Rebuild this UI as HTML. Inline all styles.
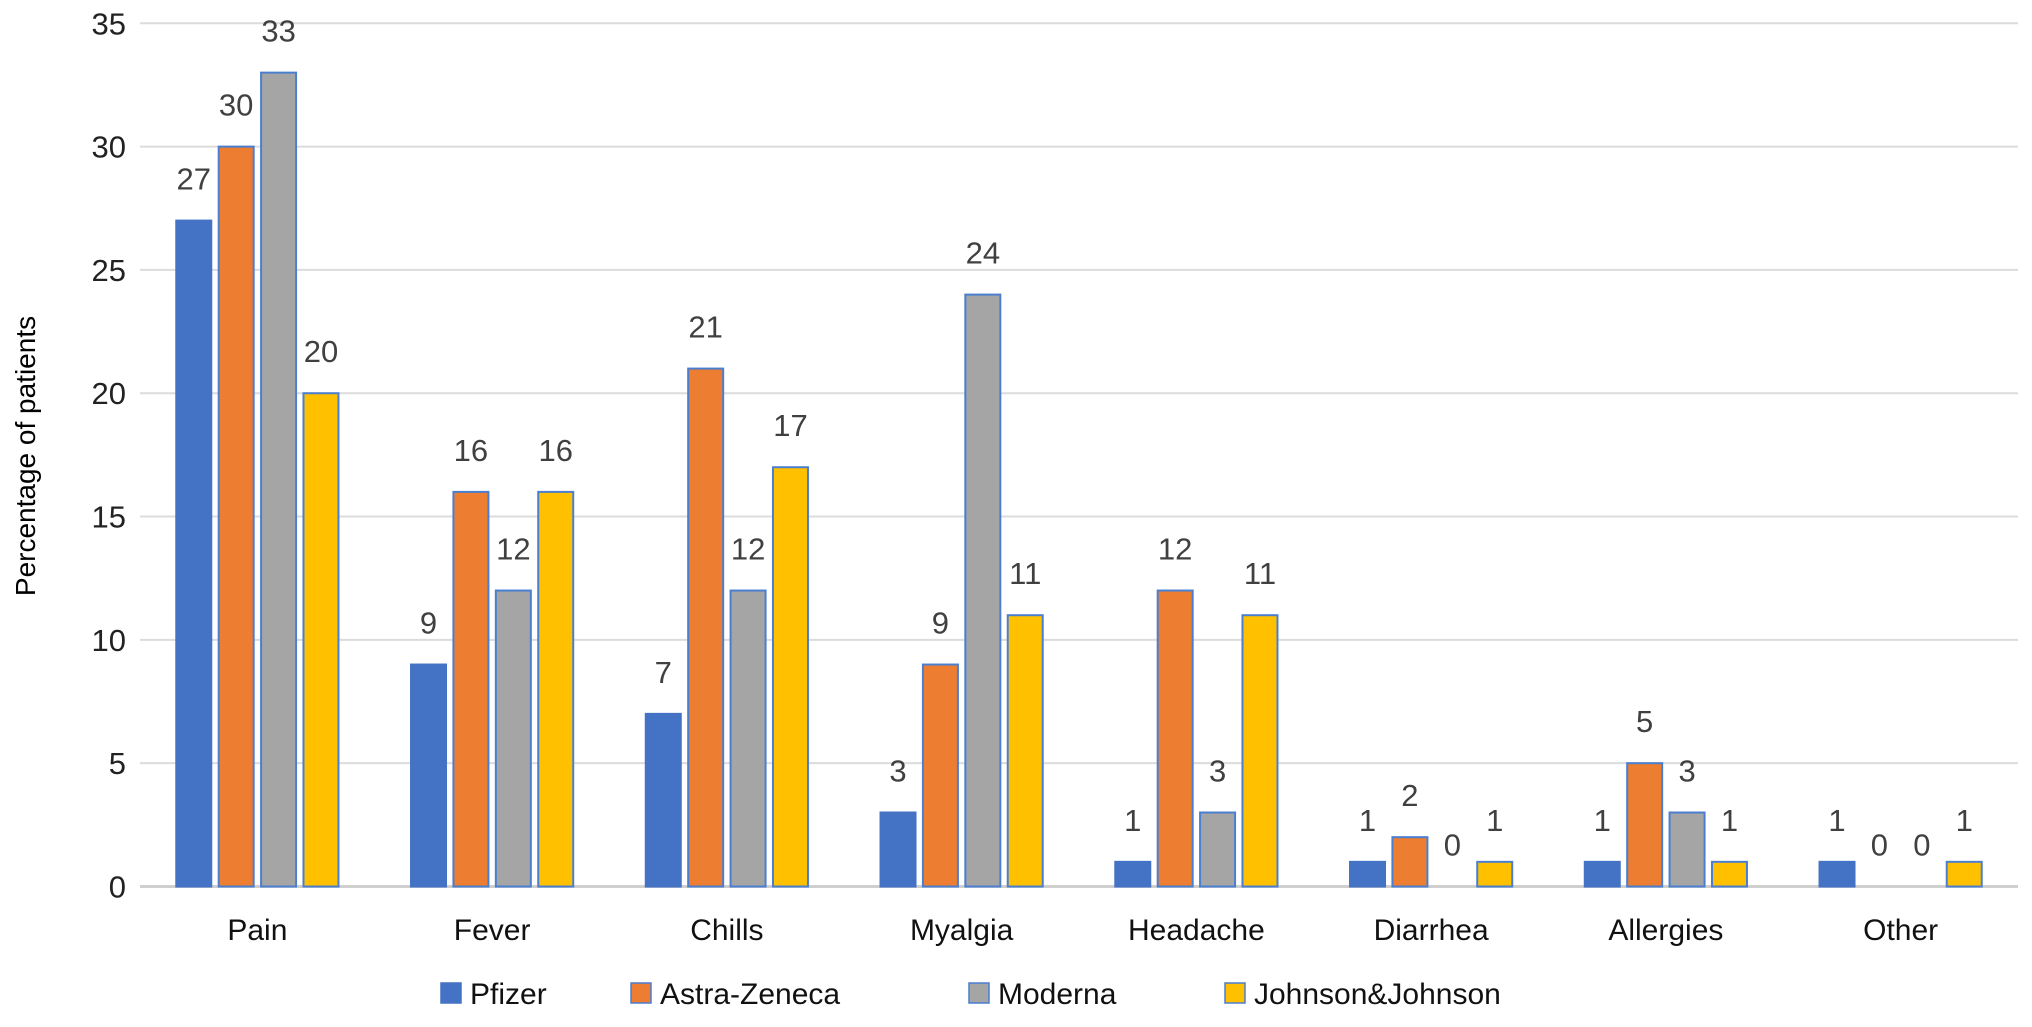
<!DOCTYPE html>
<html><head><meta charset="utf-8"><style>
body{margin:0;background:#fff;}
svg text{font-family:"Liberation Sans",sans-serif;}
</style></head><body>
<svg id="chart" width="2032" height="1022" xmlns="http://www.w3.org/2000/svg">
<g id="grid"></g>
<g id="bars"></g>
<g id="labels"></g>
<g id="axes"></g>
<text x="0" y="0" transform="translate(35,456) rotate(-90)" text-anchor="middle" font-size="28" fill="#000">Percentage of patients</text>
<g id="legend"></g>
</svg>
<script>
const categories=["Pain","Fever","Chills","Myalgia","Headache","Diarrhea","Allergies","Other"];
const seriesNames=["Pfizer","Astra-Zeneca","Moderna","Johnson&Johnson"];
const pfizer=[27,9,7,3,1,1,1,1];
const astra=[30,16,21,9,12,2,5,0];
const moderna=[33,12,12,24,3,0,3,0];
const jj=[20,16,17,11,11,1,1,1];
const yTicks=[0,5,10,15,20,25,30,35];

const series=[pfizer,astra,moderna,jj];
const colors=["#4472C4","#ED7D31","#A5A5A5","#FFC000"];
const strokes=["#4472C4","#4a7fd0","#4a7fd0","#4a7fd0"];
const NS="http://www.w3.org/2000/svg";
const left=140,right=2018,y0=886.5,yTop=23.3,yMax=35;
const bw=(right-left)/categories.length;
const y=v=>y0-(v/yMax)*(y0-yTop);
const xc=i=>left+bw*(i+0.5);
const barW=35,step=42.4;
function mk(tag,attrs,parent){const e=document.createElementNS(NS,tag);for(const k in attrs)e.setAttribute(k,attrs[k]);parent.appendChild(e);return e;}
const grid=document.getElementById('grid'),axes=document.getElementById('axes'),bars=document.getElementById('bars'),labels=document.getElementById('labels'),legend=document.getElementById('legend');
yTicks.forEach(t=>{
 const l=mk('line',{x1:left,x2:right,y1:y(t),y2:y(t),stroke:t===0?'#cfcfcf':'#dcdcdc','stroke-width':t===0?3:2},grid);
 
 
 const tx=mk('text',{x:126,y:y(t)+11,'text-anchor':'end','font-size':31,fill:'#222'},axes);
 tx.textContent=t;
 
 
});
categories.forEach((c,i)=>{
 const tx=mk('text',{x:xc(i),y:940,'text-anchor':'middle','font-size':30,fill:'#111'},axes);
 tx.textContent=c;
 
 
 series.forEach((s,j)=>{
  const v=s[i];
  const bx=xc(i)+(j-1.5)*step-barW/2;
  if(v>0){
   const r=mk('rect',{x:bx,y:y(v),width:barW,height:y0-y(v),fill:colors[j],stroke:strokes[j],'stroke-width':2},bars);
   
   
  }
  const lt=mk('text',{x:bx+barW/2,y:y(v)-31,'text-anchor':'middle','font-size':31,fill:'#404040'},labels);
  lt.textContent=v;
  
  
 });
});
const legX=[441,631,969,1225];
seriesNames.forEach((n,j)=>{
 const g=mk('g',{},legend);
 
 
 mk('rect',{x:legX[j],y:983,width:20,height:20,fill:colors[j],stroke:strokes[j],'stroke-width':1.5},g);
 const t=mk('text',{x:legX[j]+29,y:1004,'font-size':30,fill:'#111'},g);
 t.textContent=n;
});
</script>
</body></html>
